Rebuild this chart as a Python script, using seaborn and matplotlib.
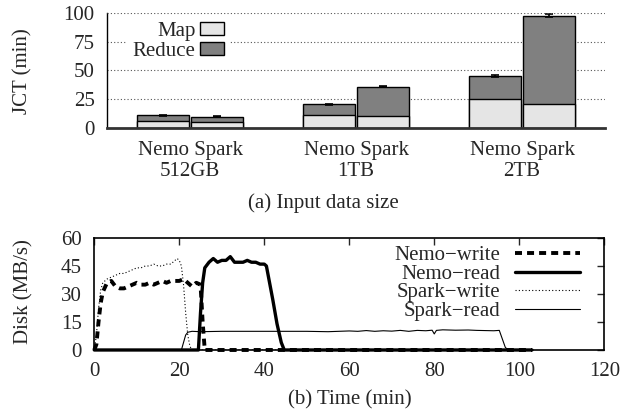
import matplotlib
matplotlib.use("Agg")
import matplotlib.pyplot as plt
import numpy as np
import pandas as pd
import seaborn as sns
from matplotlib.patches import Patch
from matplotlib.lines import Line2D

# ---------------- data ----------------
sizes = ["512GB", "1TB", "2TB"]
systems = ["Nemo", "Spark"]
map_nemo = [6.1, 11.3, 24.9]
total_nemo = [11.0, 20.5, 45.1]
map_spark = [5.2, 10.4, 20.5]
total_spark = [9.8, 35.8, 97.4]
err_nemo = [0.6, 0.5, 0.9]
err_spark = [0.4, 0.5, 1.1]
xtick_labels = ["Nemo Spark\n512GB", "Nemo Spark\n1TB", "Nemo Spark\n2TB"]

nemo_write_t = [0, 0.5, 1, 1.5, 2, 3, 4, 5, 6, 7, 8, 9, 10, 11, 12, 13, 14, 15, 16, 17,
                18, 19, 20, 21, 22, 23, 24, 25, 25.5, 26, 30, 40, 50, 60, 70, 80, 90, 100, 103]
nemo_write_v = [0, 3, 15, 25, 31, 36, 37, 34, 33, 33, 34, 35, 36, 35, 35, 36, 35, 36, 37, 36,
                37, 37, 37, 38, 36, 34, 36, 35, 15, 0, 0, 0, 0, 0, 0, 0, 0, 0, 0]

nemo_read_t = [0, 10, 20, 24.5, 25, 25.5, 26, 27, 28, 29, 30, 31, 32, 33, 34, 35, 36, 37, 38,
               39, 40, 40.5, 41, 42, 43, 44, 44.7, 50, 60, 70, 80, 90, 100, 103]
nemo_read_v = [0, 0, 0, 0, 20, 36, 44, 47, 49, 47, 48, 48, 50, 47, 47, 47, 48, 47, 47,
               46, 46, 45, 39, 27, 14, 4, 0, 0, 0, 0, 0, 0, 0, 0]

spark_write_t = [0, 0.5, 1, 1.5, 2, 3, 4, 5, 6, 7, 8, 9, 10, 11, 12, 13, 14, 15, 16, 17,
                 18, 19, 19.5, 20, 20.5, 21, 21.5, 22, 22.5, 23, 30, 50, 70, 90, 103]
spark_write_v = [0, 8, 22, 32, 36, 38, 39, 40, 41, 41, 42, 43, 44, 44, 45, 45, 46, 45, 45, 46,
                 46, 48, 49, 48, 45, 35, 20, 8, 2, 0, 0, 0, 0, 0, 0]

spark_read_t = [0, 10, 20, 20.5, 21, 21.5, 22, 23, 25, 30, 35, 40, 45, 50, 55, 60, 62, 64, 66,
                68, 70, 72, 74, 76, 78, 79.5, 80, 80.5, 82, 85, 88, 90, 92, 94, 95.3, 96, 96.7,
                97.3, 100, 103]
spark_read_v = [0, 0, 0, 0, 4, 8, 9.5, 10, 9.8, 10, 10, 10, 10, 10, 9.8, 10.2, 10, 10.4, 10,
                10.3, 10.1, 10.5, 10, 10.5, 10.3, 10.6, 8.6, 10.5, 10.8, 10.6, 10.7, 10.5, 10.4,
                10.3, 10.5, 6, 1.5, 0, 0, 0]

# ---------------- style ----------------
sns.set_style("white")
plt.rcParams["font.family"] = ["Liberation Serif", "DejaVu Serif"]
plt.rcParams["font.size"] = 15

MAP_C = "#e5e5e5"
RED_C = "#808080"

fig = plt.figure(figsize=(6.34, 4.17), dpi=100)
ax1 = fig.add_axes([0.1688, 0.6930, 0.7855, 0.2765])
ax2 = fig.add_axes([0.1487, 0.1607, 0.8044, 0.2686])

# ---------------- top panel ----------------
for yv in [25, 50, 75, 100]:
    ax1.axhline(yv, color="#555555", lw=0.8, ls=(0, (1, 2)),
                zorder=6 if yv == 100 else 0.5)

df = pd.DataFrame({
    "size": sizes * 2,
    "system": ["Nemo"] * 3 + ["Spark"] * 3,
    "map": map_nemo + map_spark,
    "total": total_nemo + total_spark,
})

sns.barplot(data=df, x="size", y="total", hue="system", order=sizes,
            hue_order=systems, palette=[RED_C, RED_C], width=0.65, gap=0.03,
            edgecolor="black", linewidth=1, errorbar=None, legend=False,
            ax=ax1, zorder=2)
n_tot = len(ax1.patches)
sns.barplot(data=df, x="size", y="map", hue="system", order=sizes,
            hue_order=systems, palette=[MAP_C, MAP_C], width=0.65, gap=0.03,
            edgecolor="black", linewidth=1, errorbar=None, legend=False,
            ax=ax1, zorder=3)

tot_patches = sorted(ax1.patches[:n_tot], key=lambda p: p.get_x())
totals = [v for pair in zip(total_nemo, total_spark) for v in pair]
errs = [v for pair in zip(err_nemo, err_spark) for v in pair]
xs = [p.get_x() + p.get_width() / 2 for p in tot_patches]
ax1.errorbar(xs, totals, yerr=errs, fmt="none", ecolor="black",
             elinewidth=1.2, capsize=3, capthick=1.2, zorder=4)

ax1.set_xlim(-0.5, 2.5)
ax1.set_ylim(0, 100)
ax1.set_yticks([0, 25, 50, 75, 100])
ax1.set_xticks(range(len(sizes)))
ax1.set_xticklabels(xtick_labels, linespacing=1.2)
ax1.tick_params(axis="both", length=0, pad=9)
ax1.set_xlabel("")
ax1.set_ylabel("JCT (min)")
ax1.yaxis.set_label_coords(-0.149, 0.49)
for s in ["top", "right"]:
    ax1.spines[s].set_visible(False)
ax1.spines["bottom"].set_linewidth(2)
ax1.spines["bottom"].set_color("#333333")
ax1.spines["bottom"].set_zorder(5)
ax1.spines["left"].set_linewidth(1)
ax1.spines["left"].set_color("black")

h1 = [Patch(facecolor=MAP_C, edgecolor="black", lw=1, label="Map"),
      Patch(facecolor=RED_C, edgecolor="black", lw=1, label="Reduce")]
leg1 = ax1.legend(handles=h1, loc="upper right", bbox_to_anchor=(0.247, 0.975),
                  markerfirst=False, frameon=True, facecolor="white",
                  edgecolor="none", framealpha=1, fancybox=False, borderpad=0.3,
                  handlelength=1.15, handleheight=0.53, handletextpad=0.2,
                  labelspacing=0.05, borderaxespad=0)
leg1.set_zorder(5)

# ---------------- bottom panel ----------------
sns.lineplot(x=nemo_write_t, y=nemo_write_v, ax=ax2, color="black", lw=2.8,
             linestyle=(0, (1.8, 1.3)), sort=False, clip_on=False, zorder=4)
sns.lineplot(x=nemo_read_t, y=nemo_read_v, ax=ax2, color="black", lw=2.4,
             sort=False, clip_on=False, zorder=3)
sns.lineplot(x=spark_write_t, y=spark_write_v, ax=ax2, color="black", lw=0.8,
             linestyle=(0, (1, 2)), sort=False, zorder=2)
sns.lineplot(x=spark_read_t, y=spark_read_v, ax=ax2, color="black", lw=0.8,
             sort=False, zorder=2)

ax2.set_xlim(0, 120)
ax2.set_ylim(0, 60)
ax2.set_xticks(range(0, 121, 20))
ax2.set_yticks(range(0, 61, 15))
ax2.tick_params(axis="both", direction="in", top=True, right=True,
                length=5, width=1, pad=9)
ax2.set_ylabel("Disk (MB/s)")
ax2.yaxis.set_label_coords(-0.12, 0.52)
ax2.set_xlabel("")
for s in ax2.spines.values():
    s.set_linewidth(1.2)
    s.set_color("black")

h2 = [Line2D([], [], color="black", lw=2.8, linestyle=(0, (1.8, 1.3)), label="Nemo\u2212write"),
      Line2D([], [], color="black", lw=2.4, label="Nemo\u2212read"),
      Line2D([], [], color="black", lw=0.8, linestyle=(0, (1, 2)), label="Spark\u2212write"),
      Line2D([], [], color="black", lw=0.8, label="Spark\u2212read")]
ax2.legend(handles=h2, loc="upper right", bbox_to_anchor=(0.952, 0.93),
           markerfirst=False, frameon=False, borderpad=0, borderaxespad=0,
           handlelength=3.1, handletextpad=0.7, labelspacing=-0.05)

fig.text(323 / 634, 1 - 203 / 417, "(a) Input data size", ha="center", va="center")
fig.text(349.5 / 634, 1 - 400 / 417, "(b) Time (min)", ha="center", va="center")

fig.savefig("out.png", dpi=100)
